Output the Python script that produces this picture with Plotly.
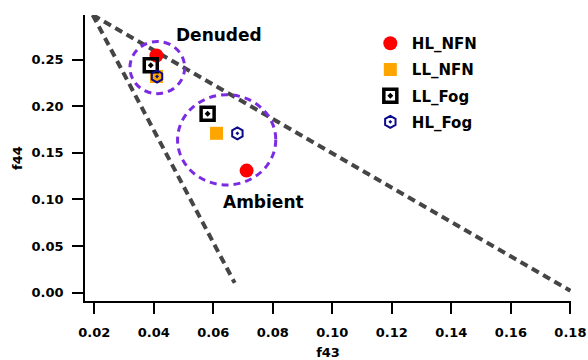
import plotly.graph_objects as go

# ---- data (f43, f44) ----
series_names = ["HL_NFN", "LL_NFN", "LL_Fog", "HL_Fog"]
HL_NFN_f43 = [0.0409, 0.0712]
HL_NFN_f44 = [0.2545, 0.131]
LL_NFN_f43 = [0.0409, 0.0611]
LL_NFN_f44 = [0.232, 0.171]
LL_Fog_f43 = [0.0390, 0.0581]
LL_Fog_f44 = [0.244, 0.192]
HL_Fog_f43 = [0.0411, 0.0681]
HL_Fog_f44 = [0.232, 0.171]

# triangle guide lines
tri_left_f43 = [0.0195, 0.0672]
tri_left_f44 = [0.298, 0.0104]
tri_right_f43 = [0.0195, 0.180]
tri_right_f44 = [0.298, 0.002]

# cluster circles: center f43, center f44, radius f43, radius f44
circle_cx = [0.0412, 0.0645]
circle_cy = [0.2416, 0.164]
circle_rx = [0.0092, 0.0165]
circle_ry = [0.028, 0.0484]

# labels
label_text = ["Denuded", "Ambient"]
label_f43 = [0.0619, 0.0770]
label_f44 = [0.277, 0.0975]

x_ticks = [0.02, 0.04, 0.06, 0.08, 0.10, 0.12, 0.14, 0.16, 0.18]
y_ticks = [0.00, 0.05, 0.10, 0.15, 0.20, 0.25]

FONT = "DejaVu Sans"
fig = go.Figure()

dash_line = dict(color="#454545", width=4, dash="8px,5px")
fig.add_trace(go.Scatter(x=tri_left_f43, y=tri_left_f44, mode="lines",
                         line=dash_line, showlegend=False, hoverinfo="skip", cliponaxis=False))
fig.add_trace(go.Scatter(x=tri_right_f43, y=tri_right_f44, mode="lines",
                         line=dash_line, showlegend=False, hoverinfo="skip", cliponaxis=False))

fig.add_trace(go.Scatter(x=HL_NFN_f43, y=HL_NFN_f44, mode="markers", name="HL_NFN", legendgroup="a",
                         marker=dict(symbol="circle", size=14, color="#FF0000", line=dict(width=0))))
fig.add_trace(go.Scatter(x=LL_NFN_f43, y=LL_NFN_f44, mode="markers", name="LL_NFN", legendgroup="b",
                         marker=dict(symbol="square", size=13, color="#FFA500", line=dict(width=0))))
fig.add_trace(go.Scatter(x=LL_Fog_f43, y=LL_Fog_f44, mode="markers", name="LL_Fog", legendgroup="c",
                         marker=dict(symbol="square-open-dot", size=13, color="#000000",
                                     line=dict(width=3.5, color="#000000"))))
fig.add_trace(go.Scatter(x=HL_Fog_f43, y=HL_Fog_f44, mode="markers", name="HL_Fog", legendgroup="d",
                         marker=dict(symbol="hexagon-open-dot", size=12, color="#0A0A8C",
                                     line=dict(width=2, color="#0A0A8C"))))

for cx, cy, rx, ry in zip(circle_cx, circle_cy, circle_rx, circle_ry):
    fig.add_shape(type="circle", xref="x", yref="y",
                  x0=cx - rx, x1=cx + rx, y0=cy - ry, y1=cy + ry,
                  line=dict(color="#7B2BE2", width=3, dash="7px,5px"), layer="above")

for t, x, y in zip(label_text, label_f43, label_f44):
    fig.add_annotation(x=x, y=y, text="<b>%s</b>" % t, showarrow=False,
                       font=dict(family=FONT, size=17, color="#000000"))

axis_common = dict(showline=True, linecolor="#000000", linewidth=1.5, ticks="outside",
                   ticklen=11, tickwidth=1.5, tickcolor="#000000", showgrid=False,
                   zeroline=False, mirror=False, automargin=False,
                   tickfont=dict(family=FONT, size=13, color="#000000", weight="bold"))

fig.update_layout(
    width=588, height=360,
    margin=dict(l=85, r=17, t=15, b=59, autoexpand=False),
    plot_bgcolor="white", paper_bgcolor="white",
    font=dict(family=FONT, color="#000000"),
    xaxis=dict(range=[0.0169, 0.1802], tickvals=x_ticks, tickformat=".2f",
               ticklabelstandoff=8,
               title=dict(text="<b>f43</b>", font=dict(family=FONT, size=13), standoff=14),
               **axis_common),
    yaxis=dict(range=[-0.009, 0.298], tickvals=y_ticks, tickformat=".2f",
               ticklabelstandoff=6,
               title=dict(text="<b>f44</b>", font=dict(family=FONT, size=13), standoff=6),
               **axis_common),
    legend=dict(x=0.584, y=0.958, xanchor="left", yanchor="top", bgcolor="rgba(0,0,0,0)",
                font=dict(family=FONT, size=15, color="#000000", weight="bold"),
                tracegroupgap=3.7, itemwidth=33),
    showlegend=True,
)

fig.write_html("out.html")
